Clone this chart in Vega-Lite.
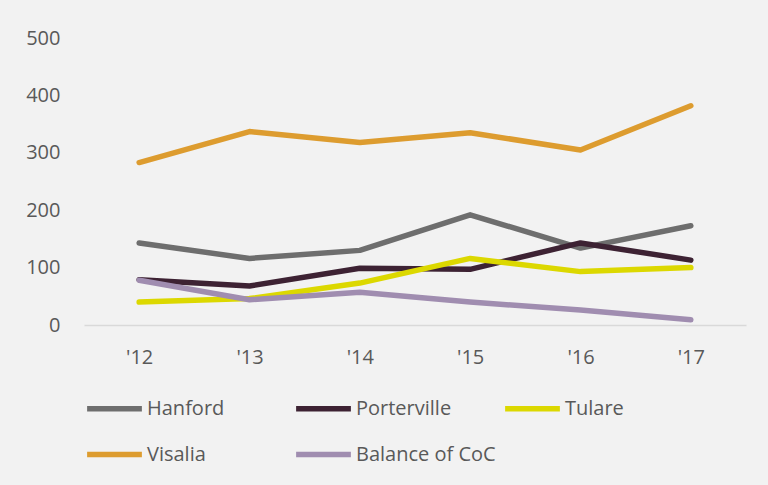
{
  "$schema": "https://vega.github.io/schema/vega-lite/v6.json",
  "width": 662,
  "height": 287,
  "autosize": {"type": "none"},
  "padding": {"left": 84, "top": 38, "right": 22, "bottom": 160},
  "background": "#f2f2f2",
  "config": {
    "view": {"stroke": null},
    "font": "Open Sans",
    "axis": {"labelFont": "Open Sans", "labelFontSize": 20, "labelColor": "#595959"},
    "legend": {"labelFont": "Open Sans", "labelFontSize": 20, "labelColor": "#595959"}
  },
  "data": {
    "values": [
      {"year": "'12", "series": "Hanford", "value": 143},
      {"year": "'13", "series": "Hanford", "value": 116},
      {"year": "'14", "series": "Hanford", "value": 130},
      {"year": "'15", "series": "Hanford", "value": 192},
      {"year": "'16", "series": "Hanford", "value": 134},
      {"year": "'17", "series": "Hanford", "value": 173},
      {"year": "'12", "series": "Porterville", "value": 79},
      {"year": "'13", "series": "Porterville", "value": 68},
      {"year": "'14", "series": "Porterville", "value": 99},
      {"year": "'15", "series": "Porterville", "value": 97},
      {"year": "'16", "series": "Porterville", "value": 143},
      {"year": "'17", "series": "Porterville", "value": 113},
      {"year": "'12", "series": "Tulare", "value": 40},
      {"year": "'13", "series": "Tulare", "value": 46},
      {"year": "'14", "series": "Tulare", "value": 73},
      {"year": "'15", "series": "Tulare", "value": 116},
      {"year": "'16", "series": "Tulare", "value": 93},
      {"year": "'17", "series": "Tulare", "value": 100},
      {"year": "'12", "series": "Visalia", "value": 283},
      {"year": "'13", "series": "Visalia", "value": 337},
      {"year": "'14", "series": "Visalia", "value": 318},
      {"year": "'15", "series": "Visalia", "value": 335},
      {"year": "'16", "series": "Visalia", "value": 305},
      {"year": "'17", "series": "Visalia", "value": 382},
      {"year": "'12", "series": "Balance of CoC", "value": 78},
      {"year": "'13", "series": "Balance of CoC", "value": 44},
      {"year": "'14", "series": "Balance of CoC", "value": 57},
      {"year": "'15", "series": "Balance of CoC", "value": 40},
      {"year": "'16", "series": "Balance of CoC", "value": 26},
      {"year": "'17", "series": "Balance of CoC", "value": 9}
    ]
  },
  "mark": {"type": "line", "strokeWidth": 5.5, "strokeCap": "round", "strokeJoin": "round"},
  "encoding": {
    "x": {
      "field": "year",
      "type": "ordinal",
      "sort": null,
      "scale": {"type": "point", "padding": 0.5},
      "axis": {
        "title": null,
        "labelAngle": 0,
        "ticks": false,
        "labelPadding": 22,
        "domainColor": "#d9d9d9",
        "domainWidth": 1.5,
        "grid": false
      }
    },
    "y": {
      "field": "value",
      "type": "quantitative",
      "scale": {"domain": [0, 500]},
      "axis": {
        "title": null,
        "values": [0, 100, 200, 300, 400, 500],
        "domain": false,
        "ticks": false,
        "grid": false,
        "labelPadding": 24
      }
    },
    "color": {
      "field": "series",
      "type": "nominal",
      "scale": {
        "domain": ["Hanford", "Porterville", "Tulare", "Visalia", "Balance of CoC"],
        "range": ["#6e6e6e", "#3d2233", "#dcd800", "#dd9c2f", "#a08db0"]
      },
      "legend": {
        "title": null,
        "orient": "bottom",
        "direction": "horizontal",
        "columns": 3,
        "gridAlign": "all",
        "symbolType": "stroke",
        "symbolSize": 3000,
        "symbolStrokeWidth": 5.5,
        "labelOffset": 2,
        "columnPadding": -2,
        "rowPadding": 4,
        "offset": 11,
        "labelLimit": 300
      }
    },
    "order": {"field": "series"}
  }
}
